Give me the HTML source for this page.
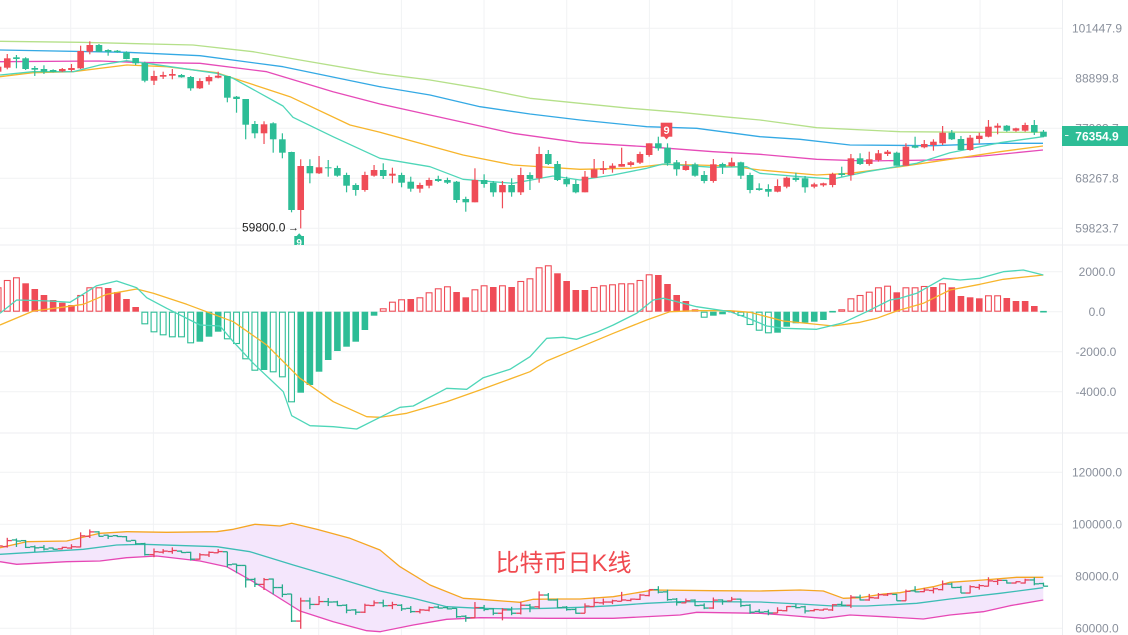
<!DOCTYPE html>
<html><head><meta charset="utf-8">
<style>
html,body{margin:0;padding:0;background:#fff;}
svg{display:block;}
.ax{font-family:"Liberation Sans",sans-serif;font-size:12px;fill:#8a909c;text-anchor:middle;}
</style></head><body>
<svg id="s" width="1128" height="635" viewBox="0 0 1128 635" xmlns="http://www.w3.org/2000/svg">
<defs>
<clipPath id="cm"><rect x="0" y="0" width="1062" height="245"/></clipPath>
<clipPath id="cd"><rect x="0" y="246" width="1062" height="186"/></clipPath>
<clipPath id="cb"><rect x="0" y="434" width="1062" height="201"/></clipPath>
</defs>
<g id="grid"></g>
<g id="bb" clip-path="url(#cb)"></g>
<g id="macd" clip-path="url(#cd)"></g>
<g id="main" clip-path="url(#cm)"></g>

<!-- markers -->
<g clip-path="url(#cm)">
  <rect x="294.3" y="236" width="9.7" height="10" fill="#2dbd96"/>
  <polygon points="296.5,236.2 299.2,233.3 301.9,236.2" fill="#2dbd96"/>
  <text x="299.2" y="246" font-family="Liberation Sans,sans-serif" font-size="10" font-weight="bold" fill="#fff" text-anchor="middle">9</text>
</g>
<rect x="660.7" y="122.7" width="11.6" height="14" fill="#ef4c57"/>
<polygon points="664,136.5 666.5,139.5 669,136.5" fill="#ef4c57"/>
<text x="666.5" y="134" font-family="Liberation Sans,sans-serif" font-size="11" font-weight="bold" fill="#fff" text-anchor="middle">9</text>

<text x="242" y="231.6" font-family="Liberation Sans,sans-serif" font-size="12" fill="#222">59800.0</text>
<text x="288" y="231.2" font-family="Liberation Sans,sans-serif" font-size="11" fill="#222">→</text>

<!-- axis labels main -->
<text class="ax" x="1097" y="32.5">101447.9</text>
<text class="ax" x="1097" y="82.5">88899.8</text>
<text class="ax" x="1097" y="132.5">77903.7</text>
<text class="ax" x="1097" y="182.5">68267.8</text>
<text class="ax" x="1097" y="232.5">59823.7</text>
<rect x="1062" y="126" width="66" height="20" fill="#2dbd96"/>
<line x1="1065" y1="135.5" x2="1068.5" y2="135.5" stroke="#e8f7f2" stroke-width="1"/>
<text x="1097" y="140.3" font-family="Liberation Sans,sans-serif" font-size="12" font-weight="bold" fill="#fff" text-anchor="middle">76354.9</text>

<!-- axis labels macd -->
<text class="ax" x="1097" y="276">2000.0</text>
<text class="ax" x="1097" y="316">0.0</text>
<text class="ax" x="1096" y="356">-2000.0</text>
<text class="ax" x="1096" y="396">-4000.0</text>

<!-- axis labels bottom -->
<text class="ax" x="1097" y="476.5">120000.0</text>
<text class="ax" x="1097" y="528.5">100000.0</text>
<text class="ax" x="1097" y="580.5">80000.0</text>
<text class="ax" x="1097" y="632.5">60000.0</text>

<text x="563.5" y="571" font-family="Liberation Sans,'Noto Sans CJK SC',sans-serif" font-size="24" fill="#f04a50" text-anchor="middle">比特币日K线</text>
</svg>
<script>
(function(){
const NS='http://www.w3.org/2000/svg';
function el(p,tag,a){const e=document.createElementNS(NS,tag);for(const k in a)e.setAttribute(k,a[k]);p.appendChild(e);return e;}
const X=i=>-1.9+i*9.17;
const RED='#ef4c57',GRN='#2dbd96';
// grid
const gg=document.getElementById('grid');
const GC='#f1f2f4';
[28.3,78.3,128.3,178.3,228.3,271.7,311.7,351.7,391.7,472.3,524.3,576,628.3].forEach(y=>el(gg,'line',{x1:0,x2:1062,y1:y,y2:y,stroke:GC,'stroke-width':1}));
[245,433].forEach(y=>el(gg,'line',{x1:0,x2:1128,y1:y,y2:y,stroke:'#eceef1','stroke-width':1}));
for(let k=0;k<12;k++){const x=70.7+k*82.67;el(gg,'line',{x1:x,x2:x,y1:0,y2:635,stroke:GC,'stroke-width':1});}
el(gg,'line',{x1:1062.5,x2:1062.5,y1:0,y2:635,stroke:'#eceef1','stroke-width':1});

const C=[
['r',66.7,71.7,65,73],['r',58.3,67.7,54,69.3],['g',57.3,59,55,68.3],['g',58.3,69,57.3,70],['g',68,69.7,66,76],
['g',69,71.7,65.3,74],['g',70,72,69.3,72.5],['r',69,71.3,68,72],['r',68,70,64,71.7],['r',51,68.3,45.7,69],
['r',45,51.7,41.3,54.3],['g',45,51.7,44,52],['g',50,51.7,49.3,55.7],['g',50.7,52,50,52.7],['g',52.3,59,51.3,59.3],
['g',58,63.3,58,65],['g',63,80.7,61.7,82.3],['r',76,80.7,70.7,85],['r',75,76.7,71.7,79],['r',74,75.7,69,79.3],
['g',75,77.3,74,77.7],['g',77,88.3,76,90.7],['r',81,88.3,78.3,89],['r',77,81.3,75.3,84.7],['r',75.7,77.7,71.7,78.3],
['g',76,97.7,76,102.3],['g',96.7,99,96,112.7],['g',99,124.7,99,139.3],['g',124,133.3,121,138.3],['r',124.3,133.3,121.3,144],
['g',123.3,139.3,122.3,152.7],['g',139.3,152.7,133.3,158.3],['g',152,210,151.7,212.3],['r',166,210,159.3,228.4],['g',166,173.3,159.3,183.3],
['r',167.3,173.3,156,174],['g',167.3,168.3,160,176.7],['g',168,175.7,165.7,176.7],['g',175,185.7,172.7,192.3],['g',185,190,183.3,195.7],
['r',175,190,171.7,191.7],['r',170,175.7,165,176.7],['g',170,176,163.3,179],['r',173.7,175.7,167.7,183.3],['g',175,182.7,172.7,187.3],
['g',181.7,188.7,176.7,191.7],['r',185,188.7,182.7,192.7],['r',180,185.7,177.7,188.3],['g',179,181,175.7,182],['g',180,182.7,177.7,184],
['g',181.7,200,181,202.7],['g',199,202.3,196.7,211.7],['r',180,202.3,168.3,202.3],['g',180,184,174.3,187.7],['g',182.7,192.3,181,196.7],
['r',185,192.3,181,208.3],['g',185,192.3,178.3,196.7],['r',175,192.3,167.7,195],['g',175,179,172.3,190],['r',154,178.3,146.7,182.7],
['g',154,164,150,165],['g',164,180,161,181],['g',179,184.3,176.7,186.7],['g',184,192.3,180,193.3],['r',176.7,192.3,171,192.3],
['r',169.3,177.7,159,177.7],['r',168.3,170,161,174],['r',165.7,168.3,163.3,172.7],['r',164,166.7,147.7,166.7],['r',162.3,165,161,166.7],
['r',154,162.7,151.7,164],['r',143.3,155,143.3,156.7],['g',143.3,148.3,136.7,150.7],['g',147.7,163.3,143.3,165.7],['g',162.3,169.3,160,175.7],
['r',165.7,170,161,170.7],['g',164.3,175.7,162.7,176.7],['g',175,181,171,183.3],['r',164.3,181,159,182.7],['g',164,166.7,162.7,174],
['r',162.3,166,157.7,166.7],['g',162.3,175.7,161.7,179],['g',175,190,172.7,193.3],['g',188.3,190,183.3,190.7],['g',189,191.7,184.3,196.7],
['r',186,191.7,179.3,192.3],['r',177.7,186.7,176.7,188.3],['g',177.7,180,172.7,181.7],['g',178.3,187.3,176,192.7],['r',184.3,186.7,182.7,188.3],
['r',183.3,185.3,182.7,186.7],['r',174,185,172.7,187.3],['g',173.3,175,166.7,176.7],['r',158.3,175,154,180.7],['g',158.3,164,153.3,165],
['r',159.3,164,151.7,165.7],['r',153.3,160,150,161.7],['r',151.7,154,150,156],['g',152.7,165.7,151.7,165.7],['r',146.7,165.7,143.3,165.7],
['g',145.7,147.7,136.7,148.3],['r',144,147.3,140,148.3],['r',141.7,145,139.3,150.7],['r',132.7,143.3,126,145],['g',132.7,139.3,130,140],
['g',139,150,136,150],['r',137.7,150,135,150.7],['r',135.7,139,132.7,143.3],['r',126.7,136.7,120,137.3],['r',125.7,127.7,123.3,134.3],
['g',125.7,130.7,125,131.7],['r',128.3,130.7,127.7,131.7],['r',125,130.7,122.7,131.7],['g',125,132.3,120,135],['g',131.7,136.7,130,137.3]
];
function pl(p,pts,col,w){el(p,'polyline',{points:pts.map(a=>a.join(',')).join(' '),fill:'none',stroke:col,'stroke-width':w||1.3,'stroke-linejoin':'round'});}

// main MAs
const gm=document.getElementById('main');
pl(gm,[[0,41.3],[80,42.3],[193,45],[253,51.7],[300,60],[380,73.7],[430,80],[480,88.3],[530,98.3],[580,103.3],[630,108.3],[680,112.3],[730,117.3],[760,120],[816.7,127.7],[900,131.7],[983,132.3],[1043,132.3]],'#b5e08a');
pl(gm,[[0,50],[126.7,52.3],[200,55.7],[283,66.7],[380,86.7],[430,95],[480,106.7],[530,114],[580,120],[646.7,126.7],[696.7,128.3],[760,136.7],[800,139.3],[850,145],[933,145.7],[1000,143.3],[1043,143.3]],'#34a9e4');
pl(gm,[[0,61.7],[100,61],[133,62.3],[200,63.3],[266.7,71.7],[333,91.7],[380,104],[430,115],[513,133.3],[580,142.7],[646.7,146.7],[713,151.7],[760,154.3],[816.7,159.3],[866.7,161],[933,160],[983,156],[1043,150]],'#e64bb8');
pl(gm,[[0,76.7],[33,72.7],[73,71.7],[126.7,65],[166.7,66.7],[216.7,72.7],[290,96.7],[350,125],[380,132.3],[463,155],[513,165],[580,169.3],[630,168.3],[663,164.3],[696.7,165],[730,166],[760,170],[816.7,175],[850,173.3],[900,166.7],[950,159.3],[1000,151.7],[1043,146]],'#f7b52c');
pl(gm,[[0,75],[33,71.7],[73,71.7],[100,65],[126.7,60.7],[146.7,63.3],[216.7,73.3],[233,78.3],[283,106],[293,117.3],[333,136.7],[380,158.3],[430,166.7],[463,179.3],[513,183.3],[553,176],[580,180],[613,175],[646.7,168.3],[663,164],[713,167.3],[746.7,166.7],[760,173.3],[800,176.7],[833,179],[866.7,171.7],[916.7,163.3],[950,152.7],[1000,142.7],[1043,136.7]],'#4ed6b8');

// candles
C.forEach((c,i)=>{
  const x=X(i),col=c[0]=='r'?RED:GRN;
  el(gm,'line',{x1:x,x2:x,y1:c[3],y2:c[4],stroke:col,'stroke-width':1.2});
  el(gm,'rect',{x:x-3.3,y:c[1],width:6.6,height:Math.max(c[2]-c[1],1),fill:col});
});

// MACD
const gd=document.getElementById('macd');
const H=[[287.3,1],[280,1],[277.3,1],[283.3,0],[289,0],[295,0],[300,0],[302.7,0],[305,0],[295,1],
[287.3,1],[287.3,1],[288,0],[292,0],[299,0],[307,0],[324.3,1],[332.3,1],[335.3,1],[337.3,1],
[337.3,1],[343.3,1],[341.7,0],[336.7,0],[331.7,0],[339.3,1],[344,1],[359.3,1],[370.7,1],[370,0],
[372.3,1],[377.3,1],[402.3,1],[392.7,0],[385,0],[371.7,0],[360,0],[351,0],[346.7,0],[341.7,0],
[330,0],[315.7,0],[308.3,1],[301.7,1],[299.3,1],[299,0],[297.3,1],[292.3,1],[288.3,1],[286.3,1],
[292,0],[297.3,0],[289.3,1],[285.3,1],[287,0],[285.3,1],[287,0],[281,1],[278.3,1],[267.3,1],
[265.3,1],[273.3,0],[281,0],[290,0],[290,0],[287,1],[285.3,1],[284.3,1],[283.3,1],[283.3,1],
[280,1],[274.3,1],[275,0],[284,0],[295,0],[301,0],[309.3,0],[317.7,1],[315.7,0],[314.3,0],
[310.7,0],[316,1],[325,1],[330.7,1],[333.3,1],[332.7,0],[326.7,0],[323.3,0],[322.7,0],[321.7,0],
[320,0],[312.7,0],[309.3,1],[298.3,1],[295,1],[291.7,1],[287.3,1],[285.7,1],[292.3,0],[287.3,1],
[287.3,1],[286,1],[287,0],[283.3,1],[287.3,0],[296,0],[297.3,0],[298.3,0],[295.3,1],[295.3,1],
[298,0],[301,0],[301,0],[306,0],[312.7,0]];
const Z=311.7;
H.forEach((h,i)=>{
  const x=X(i),y=h[0],col=y<Z?RED:GRN;
  let y1=Math.min(y,Z),y2=Math.max(y,Z);
  if(y2-y1<1.5){y1=Z-0.8;y2=Z+0.8;}
  if(h[1]) el(gd,'rect',{x:x-2.9,y:y1+0.5,width:5.8,height:Math.max(y2-y1-1,0.5),fill:'#fff',stroke:col,'stroke-width':1.1});
  else el(gd,'rect',{x:x-3.3,y:y1,width:6.6,height:y2-y1,fill:col});
});
pl(gd,[[0,325],[33.3,311],[66.7,306.7],[83.3,304.3],[106.7,294.3],[136.7,289],[153.3,293.3],[186.7,304.3],[233.3,321.7],[266.7,345],[300,378.3],[333.3,401.7],[366.7,416.7],[380,417.3],[406.7,413.3],[446.7,401.7],[480,390],[530,371.7],[546.7,361],[566.7,352.7],[613.3,333.3],[646.7,320],[670,311.7],[696.7,310.7],[730,310.7],[750,312.3],[783.3,321],[833.3,326],[860,322.3],[876.7,318.3],[896.7,311],[923.3,303.3],[950,290],[980,284.3],[1003.3,279.3],[1043.3,275]],'#f7b52c');
pl(gd,[[0,313.3],[16.7,300],[50,301],[70,302.3],[96.7,285.7],[116.7,281],[136.7,287.7],[146.7,297.7],[166.7,308.3],[200,325],[220,326],[233.3,341.7],[253.3,363.3],[283.3,391.7],[291.7,415.7],[310,425.7],[333.3,426.7],[356.7,429],[380,417.3],[400,407.3],[413.3,406],[446.7,388.3],[466.7,389.3],[483.3,377.7],[510,369.3],[530,356.7],[546.7,338.3],[563.3,337.3],[576.7,339.3],[596.7,332.3],[613.3,325],[636.7,313.3],[653.3,300],[663.3,298.3],[696.7,306.7],[730,311.7],[750,319],[766.7,326],[783.3,328.3],[816.7,329.3],[843.3,322.7],[866.7,311.7],[890,300],[900,298.3],[916.7,293.3],[943.3,278.3],[960,280],[980,278.3],[1003.3,271.7],[1023.3,270],[1043.3,275]],'#4ed6b8');

// Bollinger
const gb=document.getElementById('bb');
const UP=[[0,547.7],[26.7,541.7],[66.7,541],[100,533.3],[126.7,531.7],[166.7,532.3],[216.7,531.7],[233.3,529.3],[255,524.3],[280,526],[291.7,523.3],[316.7,529.3],[350,538.3],[380,550],[400,566.7],[430,585],[463.3,598.3],[480,599.3],[520,602.3],[533.3,599.3],[553.3,599],[580,599],[613.3,596.7],[653.3,590],[713.3,590.7],[760,591],[800,590],[823.3,591],[843.3,598.3],[860,597.7],[883.3,594],[900,592.7],[933.3,586.7],[950,582.3],[983.3,580],[1016.7,577.3],[1043.3,577.3]];
const MID=[[0,554.3],[33.3,552.3],[83.3,549.3],[116.7,545],[143.3,544.3],[216.7,546.7],[250,551.7],[293.3,565],[333.3,576.7],[380,591],[413.3,598.3],[446.7,606.7],[480,608.3],[513.3,609],[546.7,608.3],[580,607.3],[613.3,605.7],[646.7,603.3],[680,601.7],[713.3,601.7],[760,602],[800,604],[833.3,606],[866.7,606],[916.7,603.3],[950,599],[1000,593.3],[1043.3,587.7]];
const LO=[[0,561.7],[16.7,564.3],[66.7,561.7],[100,561],[126.7,557.7],[156.7,556],[200,561],[226.7,566.7],[253.3,581.7],[300,611],[333.3,621.7],[366.7,630.7],[380,631.7],[413.3,625],[446.7,619.3],[480,617.7],[546.7,618.3],[613.3,618.3],[680,615],[696.7,612.3],[760,613.3],[783.3,615],[823.3,618.3],[850,615],[883.3,616.7],[923.3,619],[950,615],[983.3,611.7],[1010,605.7],[1043.3,600]];
el(gb,'polygon',{points:UP.concat(LO.slice().reverse()).map(a=>a.join(',')).join(' '),fill:'#f4e6fc',stroke:'none'});
pl(gb,UP,'#f5a623');
pl(gb,MID,'#3dbdb5');
pl(gb,LO,'#e648b5');
const P=y=>59823.7*Math.exp((228.3-y)/50*0.13206);
const BY=p=>628.3-(p-60000)*0.0026;
C.forEach((c,i)=>{
  const x=X(i),up=c[0]=='r',col=up?'#e8435c':'#27ab8c';
  const o=up?c[2]:c[1],cl=up?c[1]:c[2];
  const yh=BY(P(c[3])),yl=BY(P(c[4])),yo=BY(P(o)),yc=BY(P(cl));
  el(gb,'line',{x1:x,x2:x,y1:yh,y2:Math.max(yl,yh+1),stroke:col,'stroke-width':1.3});
  el(gb,'line',{x1:x-4.6,x2:x,y1:yo,y2:yo,stroke:col,'stroke-width':1.3});
  el(gb,'line',{x1:x,x2:x+4.6,y1:yc,y2:yc,stroke:col,'stroke-width':1.3});
});
})();
</script>
</body></html>
